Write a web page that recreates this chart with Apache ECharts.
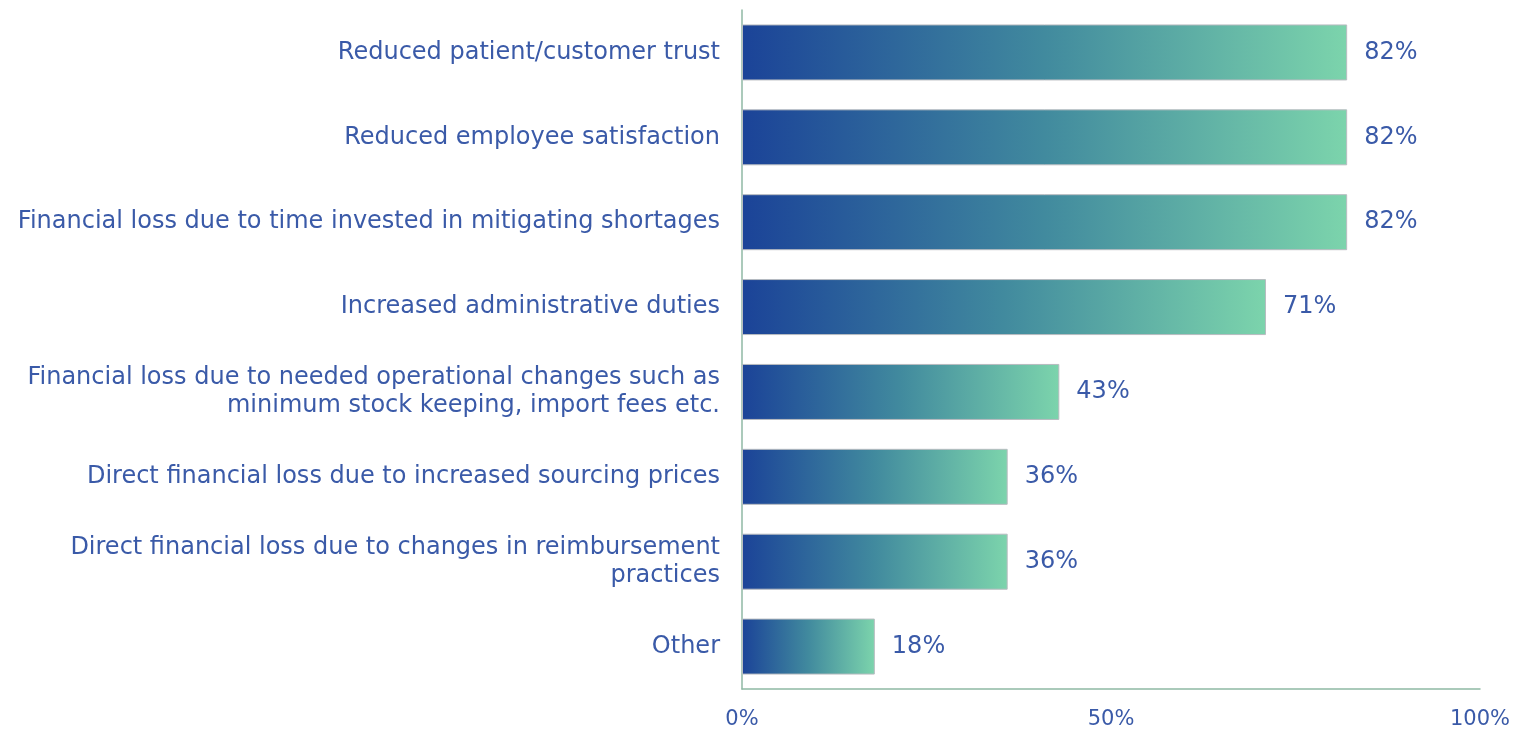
<!DOCTYPE html>
<html><head><meta charset="utf-8">
<script src="https://cdn.jsdelivr.net/npm/echarts@6/dist/echarts.min.js"></script>
<style>html,body{margin:0;padding:0;background:#fff}#c{width:1514px;height:732px}</style>
</head><body><div id="c"></div>
<script>
const categories = [
  "Reduced patient/customer trust",
  "Reduced employee satisfaction",
  "Financial loss due to time invested in mitigating shortages",
  "Increased administrative duties",
  "Financial loss due to needed operational changes such as\nminimum stock keeping, import fees etc.",
  "Direct financial loss due to increased sourcing prices",
  "Direct financial loss due to changes in reimbursement\npractices",
  "Other"
];
const values = [82, 82, 82, 71, 43, 36, 36, 18];
const xTicks = [0, 50, 100];

const textColor = '#3a5aa8';
const fontFam = 'DejaVu Sans';
const chart = echarts.init(document.getElementById('c'));
chart.setOption({
  animation: false,
  grid: {left: 742, right: 34, top: 10, bottom: 43, containLabel: false},
  xAxis: {
    type: 'value', min: 0, max: 100, interval: 50,
    axisLine: {show: true, lineStyle: {color: '#8fb9a4', width: 1.5}},
    axisTick: {show: false},
    splitLine: {show: false},
    axisLabel: {color: textColor, fontSize: 21, fontFamily: fontFam, margin: 20,
      formatter: v => xTicks.includes(v) ? v + '%' : ''}
  },
  yAxis: {
    type: 'category', inverse: true, data: categories,
    axisLine: {show: true, lineStyle: {color: '#8fb9a4', width: 1.5}},
    axisTick: {show: false},
    axisLabel: {color: textColor, fontSize: 24, fontFamily: fontFam, margin: 22, align: 'right', lineHeight: 28}
  },
  series: [{
    type: 'bar', data: values, barWidth: 56,
    itemStyle: {
      color: new echarts.graphic.LinearGradient(0, 0, 1, 0, [
        {offset: 0, color: '#1b4398'},
        {offset: 0.5, color: '#418a9e'},
        {offset: 1, color: '#7cd4ac'}
      ]),
      borderColor: '#b8bcc0', borderWidth: 1
    },
    label: {show: true, position: 'right', distance: 17, color: textColor, fontSize: 24, fontFamily: fontFam,
      formatter: p => p.value + '%'}
  }]
});
</script></body></html>
